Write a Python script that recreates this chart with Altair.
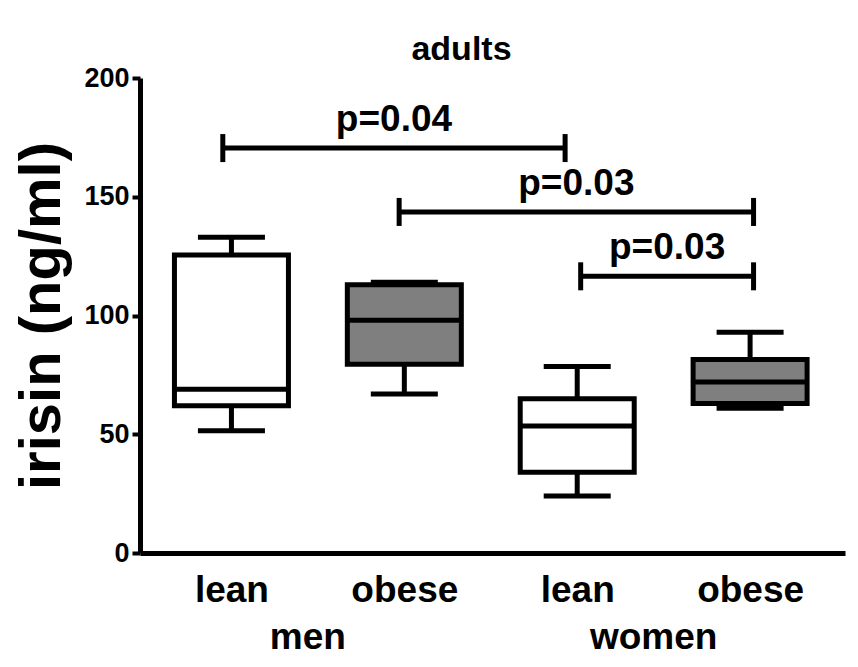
import altair as alt
import pandas as pd

# ---- data ----
sex = ["men", "men", "women", "women"]
bmi = ["lean", "obese", "lean", "obese"]
pos = [1, 2, 3, 4]
whisker_low = [51.5, 67, 24, 61]
q1 = [62, 79.5, 34, 63]
median = [69, 98, 53.5, 72]
q3 = [125.5, 113, 65, 81.5]
whisker_high = [133, 114, 78.5, 93]

x_labels = ["lean", "obese", "lean", "obese"]
group_names = ["men", "women"]
group_pos = [1.5, 3.5]

sig_x1 = [0.95, 1.97, 3.02]
sig_x2 = [2.93, 4.02, 4.02]
sig_y = [170.5, 143.6, 116.5]
sig_text = ["p=0.04", "p=0.03", "p=0.03"]

FONT = "Liberation Sans"

box_df = pd.DataFrame({
    "sex": sex, "bmi": bmi, "pos": pos,
    "lo": whisker_low, "q1": q1, "med": median, "q3": q3, "hi": whisker_high,
})
sig_df = pd.DataFrame({"x1": sig_x1, "x2": sig_x2, "y": sig_y, "t": sig_text})
sig_df["xm"] = (sig_df["x1"] + sig_df["x2"]) / 2
ends_df = pd.DataFrame({"x": sig_x1 + sig_x2, "y": sig_y + sig_y})
grp_df = pd.DataFrame({"g": group_names, "x": group_pos})

label_expr = "[" + ",".join("'%s'" % s for s in x_labels) + "][datum.value - 1]"

xscale = alt.Scale(domain=[0.5, 4.52], nice=False, zero=False)
yscale = alt.Scale(domain=[0, 200], nice=False)

X = alt.X("pos:Q", scale=xscale,
          axis=alt.Axis(values=pos, labelExpr=label_expr, title=None, grid=False,
                        ticks=False, domainColor="black", domainWidth=5,
                        labelFont=FONT, labelFontSize=37, labelFontWeight="bold",
                        labelColor="black", labelPadding=19, labelFlush=False))
Y = alt.Y("lo:Q", scale=yscale,
          axis=alt.Axis(values=[0, 50, 100, 150, 200], title="irisin (ng/ml)", grid=False,
                        domainColor="black", domainWidth=5, tickColor="black",
                        tickWidth=4, tickSize=8, labelFont=FONT, labelFontSize=27,
                        labelFontWeight="bold", labelColor="black", labelPadding=3,
                        titleFont=FONT, titleFontSize=58, titleFontWeight="bold",
                        titleColor="black", titleX=-98, titleY=237.5,
                        titleAlign="center", titleBaseline="middle", titleAngle=270))

base = alt.Chart(box_df)

whisk = base.mark_rule(color="black", strokeWidth=5).encode(x=X, y=Y, y2="hi:Q")
box = base.mark_bar(size=114, stroke="black", strokeWidth=5).encode(
    x="pos:Q", y="q1:Q", y2="q3:Q",
    fill=alt.Fill("bmi:N", scale=alt.Scale(domain=["lean", "obese"], range=["white", "#7f7f7f"]),
                  legend=None))
med = base.mark_tick(orient="horizontal", size=114, thickness=5, color="black", opacity=1).encode(
    x="pos:Q", y="med:Q")
cap_lo = base.mark_tick(orient="horizontal", size=67, thickness=5, color="black", opacity=1).encode(
    x="pos:Q", y="lo:Q")
cap_hi = base.mark_tick(orient="horizontal", size=67, thickness=5, color="black", opacity=1).encode(
    x="pos:Q", y="hi:Q")

sig_rule = alt.Chart(sig_df).mark_rule(color="black", strokeWidth=5).encode(
    x="x1:Q", x2="x2:Q", y="y:Q")
sig_ends = alt.Chart(ends_df).mark_tick(orient="vertical", size=28, thickness=5,
                                        color="black", opacity=1).encode(x="x:Q", y="y:Q")
sig_txt = alt.Chart(sig_df).mark_text(font=FONT, fontSize=37, fontWeight="bold", color="black",
                                      baseline="alphabetic", dy=-17).encode(
    x="xm:Q", y="y:Q", text="t:N")

grp_txt = alt.Chart(grp_df).mark_text(font=FONT, fontSize=37, fontWeight="bold", color="black",
                                      baseline="alphabetic", dx=-10).encode(
    x="x:Q", y=alt.value(571), text="g:N")

chart = alt.layer(whisk, box, med, cap_lo, cap_hi, sig_rule, sig_ends, sig_txt, grp_txt).properties(
    width=705, height=475,
    title=alt.TitleParams("adults", font=FONT, fontSize=34, fontWeight="bold", color="black",
                          anchor="middle", frame="group", dx=-31, dy=34, offset=4,
                          baseline="alphabetic"),
    autosize=alt.AutoSizeParams(type="none"),
    padding={"left": 132, "top": 70, "right": 3, "bottom": 106},
    background="white",
).configure_view(stroke=None)

chart.save("out.html", embed_options={"renderer": "svg", "actions": False})
